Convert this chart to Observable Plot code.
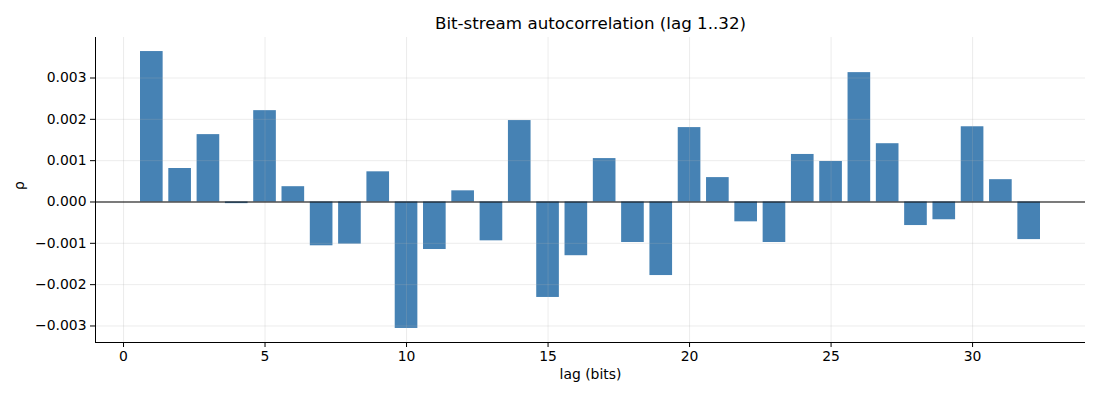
<!DOCTYPE html>
<html>
<head>
<meta charset="utf-8">
<script src="https://cdn.jsdelivr.net/npm/d3@7"></script>
<script src="https://cdn.jsdelivr.net/npm/@observablehq/plot@0.6"></script>
<style>
  html, body { margin: 0; padding: 0; background: #fff; }
  #chart svg { display: block; }
</style>
</head>
<body>
<div id="chart"></div>
<script>
const lags = [1,2,3,4,5,6,7,8,9,10,11,12,13,14,15,16,17,18,19,20,21,22,23,24,25,26,27,28,29,30,31,32];
const rho = [0.00364, 0.00081, 0.00163, -0.00004, 0.00221, 0.00037, -0.00106, -0.00102, 0.00073, -0.00306, -0.00115,
             0.00027, -0.00094, 0.00197, -0.00231, -0.00130, 0.00105, -0.00098, -0.00178, 0.00180, 0.00059, -0.00048,
             -0.00098, 0.00115, 0.00098, 0.00313, 0.00141, -0.00057, -0.00043, 0.00182, 0.00054, -0.00091];
const xTicks = [0, 5, 10, 15, 20, 25, 30];
const yTicks = [-0.003, -0.002, -0.001, 0, 0.001, 0.002, 0.003];
const title = "Bit-stream autocorrelation (lag 1..32)";
const xLabel = "lag (bits)";
const yLabel = "ρ";

const data = lags.map((l, i) => ({lag: l, rho: rho[i]}));
const xDomain = [-0.99, 33.99];
const yDomain = [-0.0034, 0.00398];
const fmt = d3.format(".3f");

const chart = Plot.plot({
  width: 1100,
  height: 400,
  marginLeft: 95,
  marginRight: 15,
  marginTop: 37,
  marginBottom: 58,
  style: {fontFamily: "DejaVu Sans", fontSize: "13.9px", color: "#000", background: "#fff"},
  x: {domain: xDomain, axis: null},
  y: {domain: yDomain, axis: null},
  marks: [
    Plot.rect(data, {x1: d => d.lag - 0.4, x2: d => d.lag + 0.4, y1: 0, y2: "rho", fill: "#4682b4"}),
    Plot.gridX(xTicks, {stroke: "#b0b0b0", strokeOpacity: 0.3, strokeWidth: 0.8}),
    Plot.gridY(yTicks, {stroke: "#b0b0b0", strokeOpacity: 0.3, strokeWidth: 0.8}),
    Plot.ruleY([0], {stroke: "#000", strokeWidth: 1.2}),
    Plot.axisX(xTicks, {tickSize: 5, tickPadding: 4, tickFormat: d => String(d), fontSize: 13.9, stroke: "#000", fill: "#000", label: null}),
    Plot.axisY(yTicks, {tickSize: 5, tickPadding: 4, tickFormat: fmt, fontSize: 13.9, stroke: "#000", fill: "#000", label: null}),
    Plot.ruleX([xDomain[0]], {stroke: "#000", strokeWidth: 1}),
    Plot.ruleY([yDomain[0]], {stroke: "#000", strokeWidth: 1}),
    Plot.text([title], {frameAnchor: "top", dy: -20, fontSize: 16.7, fill: "#000"}),
    Plot.text([xLabel], {frameAnchor: "bottom", dy: 36, fontSize: 13.9, fill: "#000"}),
    Plot.text([yLabel], {frameAnchor: "left", dx: -76, rotate: -90, fontSize: 13.9, fill: "#000"})
  ]
});
document.getElementById("chart").appendChild(chart);
</script>
</body>
</html>
